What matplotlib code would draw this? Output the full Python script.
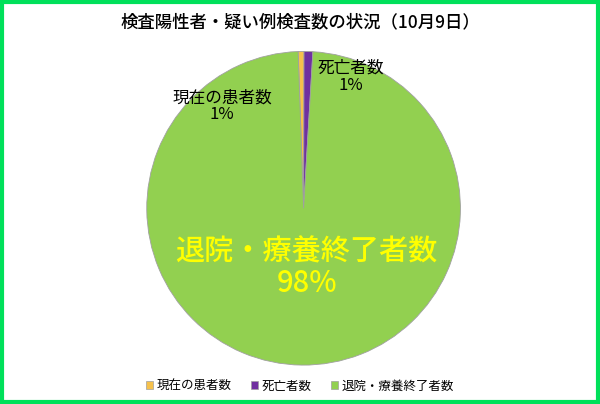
import matplotlib.pyplot as plt
from matplotlib.patches import Rectangle

plt.rcParams['font.family'] = ['Noto Sans CJK JP', 'DejaVu Sans']

labels = ['現在の患者数', '死亡者数', '退院・療養終了者数']
values = [0.6, 0.9, 98.5]
colors = ['#f6c14b', '#7030a0', '#92d050']

fig = plt.figure(figsize=(6, 4.04), dpi=100)
fig.patches.append(Rectangle((0.004, 0.006), 0.992, 0.988, transform=fig.transFigure,
                             fill=False, edgecolor='#00e05a', linewidth=3))
ax = fig.add_axes([0.242, 0.092, 0.528, 0.785])
wedges, _ = ax.pie(values, colors=colors, startangle=92, counterclock=False,
                   wedgeprops=dict(edgecolor='#a0a0a0', linewidth=0.6))
ax.set_xlim(-1.01, 1.01)
ax.set_ylim(-1.01, 1.01)
ax.set_aspect('equal')

ax.text(0.30, 0.84, '死亡者数\n1%', ha='center', va='center', fontsize=12, linespacing=1.0)
ax.text(-0.52, 0.65, '現在の患者数\n1%', ha='center', va='center', fontsize=12, linespacing=1.0)
ax.text(0.02, -0.38, '退院・療養終了者数\n98%', ha='center', va='center', fontsize=21,
        color='#ffff00', linespacing=1.05, fontweight='medium')

fig.text(0.5, 0.945, '検査陽性者・疑い例検査数の状況（10月9日）', ha='center', va='center',
         fontsize=12.5, fontweight='medium')

handles = [Rectangle((0, 0), 1, 1, facecolor=c, edgecolor='#a0a0a0', linewidth=0.5) for c in colors]
fig.legend(handles, labels, loc='lower center', bbox_to_anchor=(0.5, 0.0), ncol=3,
           frameon=False, fontsize=9, handlelength=0.6, handleheight=0.6, columnspacing=1.5,
           handletextpad=0.3)

fig.savefig('out.png')
